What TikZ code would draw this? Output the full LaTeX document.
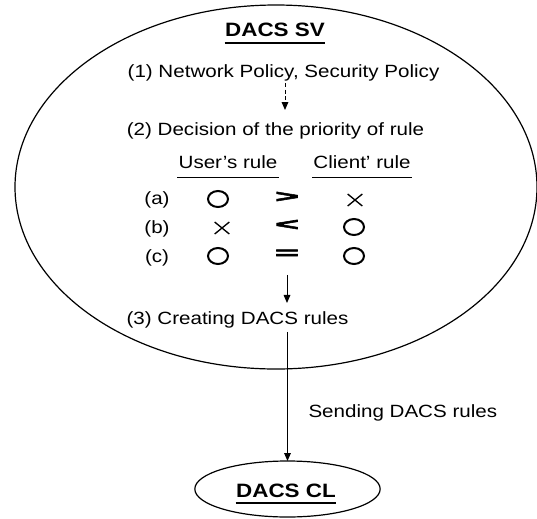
\documentclass[tikz,border=0pt]{standalone}
\usepackage{fontspec}
\setmainfont{Liberation Sans}[FakeStretch=1.16]
\newfontfamily\signfont{Liberation Sans Bold}[FakeBold=3]
\usetikzlibrary{shapes.geometric,shapes.misc,arrows.meta}

\newcommand{\widesign}[1]{\scalebox{1.9}[0.8]{#1}}

\tikzset{every picture/.style={line width=0.75pt}}
\tikzset{
  txt/.style={inner sep=0.75pt, font=\fontsize{13.3}{16}\selectfont},
  ttl/.style={inner xsep=0pt, inner ysep=4pt, font=\fontsize{14.5}{17}\selectfont\bfseries},
  colhead/.style={inner xsep=0.5pt, inner ysep=6.7pt, font=\fontsize{13.3}{16}\selectfont},
  sgn/.style={inner sep=0pt, font=\fontsize{16}{20}\signfont},
  okmark/.style={ellipse, draw, line width=1.5, minimum width=15pt, minimum height=12pt, inner sep=0pt},
  ngmark/.style={cross out, draw, line width=1, minimum width=10pt, minimum height=8pt, inner sep=0pt},
  tip/.style={-{Triangle[length=6pt,width=5pt]}},
}

\begin{document}
\begin{tikzpicture}[x=0.75pt,y=0.75pt,yscale=-1,xscale=1]
\useasboundingbox (0,0) rectangle (537,519);

%Shape: Ellipse [server]
\node [ellipse, draw, line width=0.9, minimum width=391.5pt, minimum height=273pt, inner sep=0pt, outer sep=0pt] (svzone) at (276,187) {};
%Shape: Ellipse [client]
\node [ellipse, draw, line width=0.9, minimum width=139pt, minimum height=42pt, inner sep=0pt, outer sep=0pt] (clzone) at (287.5,489) {};

% Text Node
\node [ttl, anchor=base] (sv) at (275,36.7) {DACS SV};
\draw [line width=1.5] (sv.south west) -- (sv.south east);
% Text Node
\node [txt, anchor=base] (pol) at (283.5,77.7) {(1) Network Policy, Security Policy};
% Text Node
\node [txt, anchor=base] (dec) at (275.5,135) {(2) Decision of the priority of rule};
% Text Node
\node [colhead, anchor=base] (usr) at (228,168) {User's rule};
\draw (usr.south west) -- (usr.south east);
% Text Node
\node [colhead, anchor=base] (cli) at (362,168) {Client' rule};
\draw (cli.south west) -- (cli.south east);

%Table rows
\node [txt, anchor=base] (ra) at (157,204) {(a)};
\node [txt, anchor=base] (rb) at (157,233) {(b)};
\node [txt, anchor=base] (rc) at (157,262) {(c)};
\node [okmark] (ua) at (218,199) {};
\node [ngmark] (ub) at (222,228) {};
\node [okmark] (uc) at (218,256) {};
\node [sgn] (gt) at (287,197) {\widesign{>}};
\node [sgn] (lt) at (287,225) {\widesign{<}};
\node [sgn] (eq) at (287,254) {\widesign{=}};
\node [ngmark] (ca) at (355,200) {};
\node [okmark] (cb) at (354,227) {};
\node [okmark] (cc) at (354,256) {};

% Text Node
\node [txt, anchor=base] (cre) at (237.5,324) {(3) Creating DACS rules};
% Text Node
\node [txt, anchor=base west] (snd) at (307,417) {Sending DACS rules};
% Text Node
\node [ttl, anchor=base] (cl) at (286,497) {DACS CL};
\draw [line width=1.5] (cl.south west) -- (cl.south east);

%Connectors
\coordinate (d1) at (285,110);
\draw [tip, dash pattern=on 3pt off 2pt] (pol.south -| d1) -- (d1);
\draw [tip, shorten <=12pt, shorten >=5pt] (eq.south) -- (eq.south |- cre.north);
\draw [tip, shorten <=2pt] (clzone.north |- cre.south) -- (clzone.north);

\end{tikzpicture}
\end{document}
